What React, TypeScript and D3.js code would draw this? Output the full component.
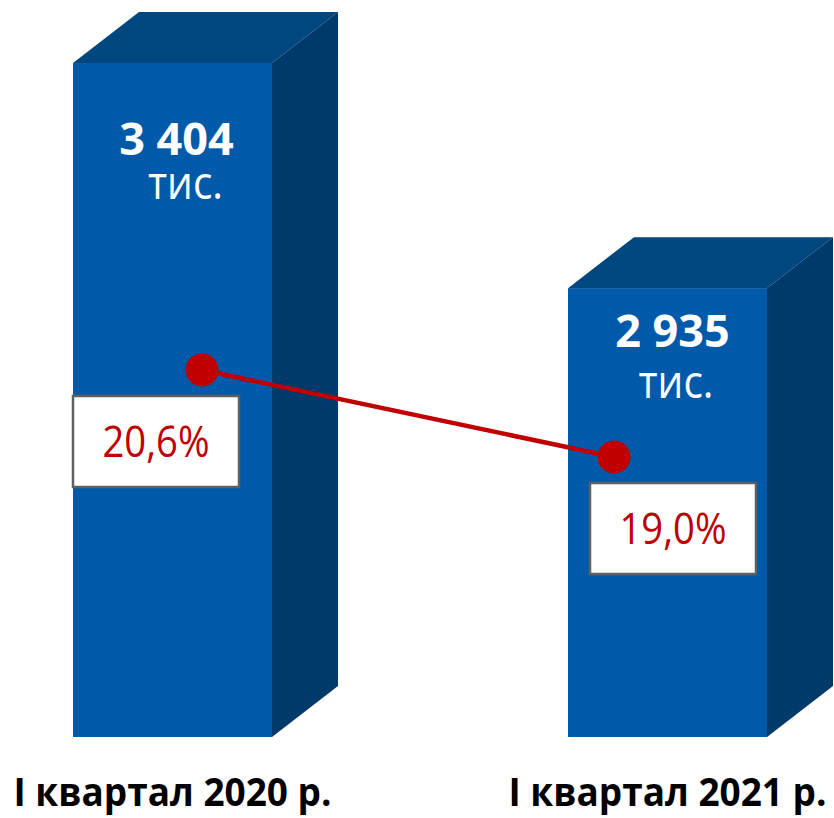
import * as d3 from "d3";

// chart values
const periods = ["I квартал 2020 р.", "I квартал 2021 р."];
const counts = [3404, 2935];
const countLabels = ["3 404", "2 935"];
const unitLabel = "тис.";
const shares = [20.6, 19.0];
const shareLabels = ["20,6%", "19,0%"];

// layout bits (from the original slide)
const W = 834;
const H = 818;
const DX = 66;
const DY = 51;
const pointDx = [129, 46];
const boxDx = [0, 22];
const valueLabelPos = [
  { dx: 103.5, dy: 92 },
  { dx: 104.5, dy: 59 },
];
const unitLabelPos = [
  { dx: 112.5, dy: 136 },
  { dx: 108, dy: 110 },
];

const FRONT = "#005AA9";
const TOP = "#00467F";
const SIDE = "#003A6B";
const RED = "#C00000";
const FONT = "'Open Sans', 'Noto Sans', sans-serif";

export default function App() {
  const x = d3
    .scaleBand<string>()
    .domain(periods)
    .range([73, 767])
    .paddingInner(0.598)
    .paddingOuter(0);
  const y = d3.scaleLinear().domain([2000, 3404]).range([737, 63]);
  const yPct = d3.scaleLinear().domain([19.0, 20.6]).range([457, 370]);
  const bw = x.bandwidth();
  const base = y(2000);

  const pts = periods.map((p, i) => [(x(p) as number) + pointDx[i], yPct(shares[i])] as [number, number]);
  const line = d3.line();

  return (
    <div style={{ position: "absolute", left: 0, top: 0 }}>
      <svg width={W} height={H} style={{ display: "block", background: "#fff" }}>
        {periods.map((p, i) => {
          const x0 = x(p) as number;
          const y0 = y(counts[i]);
          const x1 = x0 + bw;
          const topFace = d3.path();
          topFace.moveTo(x0, y0);
          topFace.lineTo(x0 + DX, y0 - DY);
          topFace.lineTo(x1 + DX, y0 - DY);
          topFace.lineTo(x1, y0);
          topFace.closePath();
          const side = d3.path();
          side.moveTo(x1, y0);
          side.lineTo(x1 + DX, y0 - DY);
          side.lineTo(x1 + DX, base - DY);
          side.lineTo(x1, base);
          side.closePath();
          return (
            <g key={p}>
              <rect x={x0} y={y0} width={bw} height={base - y0} fill={FRONT} />
              <path d={topFace.toString()} fill={TOP} />
              <path d={side.toString()} fill={SIDE} />
              <text
                x={x0 + valueLabelPos[i].dx}
                y={y0 + valueLabelPos[i].dy}
                textAnchor="middle"
                fontFamily={FONT}
                fontWeight="bold"
                fontSize={45}
                fill="#fff"
              >
                {countLabels[i]}
              </text>
              <text
                x={x0 + unitLabelPos[i].dx}
                y={y0 + unitLabelPos[i].dy}
                textAnchor="middle"
                fontFamily={FONT}
                fontSize={45}
                fill="#fff"
                textLength={75}
                lengthAdjust="spacingAndGlyphs"
              >
                {unitLabel}
              </text>
              <text
                x={x0 + bw / 2}
                y={806}
                textAnchor="middle"
                fontFamily={FONT}
                fontWeight="bold"
                fontSize={40}
                fill="#000"
                textLength={318}
                lengthAdjust="spacingAndGlyphs"
              >
                {p}
              </text>
            </g>
          );
        })}

        <path d={line(pts) ?? ""} fill="none" stroke={RED} strokeWidth={4.5} />
        {pts.map(([cx, cy], i) => (
          <circle key={i} cx={cx} cy={cy} r={16.5} fill={RED} />
        ))}

        {periods.map((p, i) => {
          const bx = (x(p) as number) + boxDx[i];
          const by = pts[i][1] + 26;
          return (
            <g key={"box" + p}>
              <rect x={bx} y={by} width={166} height={91} fill="#fff" stroke="#5f5f5f" strokeWidth={2.5} />
              <text
                x={bx + 83}
                y={by + 61}
                textAnchor="middle"
                fontFamily={FONT}
                fontSize={43}
                fill={RED}
                textLength={107}
                lengthAdjust="spacingAndGlyphs"
              >
                {shareLabels[i]}
              </text>
            </g>
          );
        })}
      </svg>
    </div>
  );
}
